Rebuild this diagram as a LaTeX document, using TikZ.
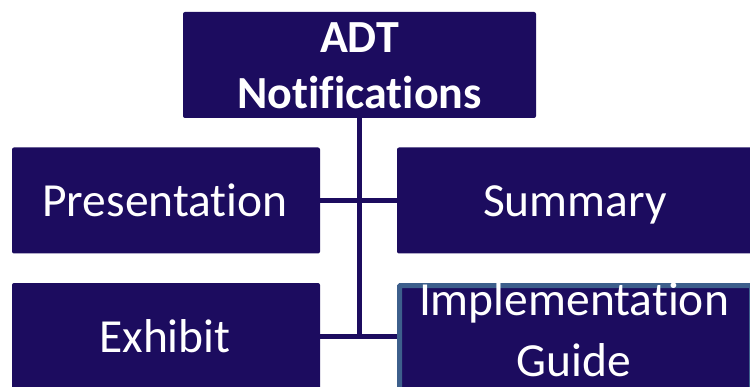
\documentclass[tikz,border=0pt]{standalone}
\usepackage{fontspec}
\setmainfont{Carlito}[Ligatures=NoCommon]
\definecolor{navy}{HTML}{1C0C5F}
\definecolor{rim}{HTML}{3D5F8C}
\begin{document}
\begin{tikzpicture}[x=1pt,y=1pt,
  box/.style={fill=navy, rounded corners=2pt, inner sep=0pt},
  label/.style={text=white, anchor=base, inner sep=0pt},
  big/.style={label, font=\fontsize{47.5}{55}\selectfont},
  head/.style={label, font=\bfseries\fontsize{46}{55}\selectfont},
  link/.style={draw=navy, line width=5pt}]
\useasboundingbox (0,0) rectangle (750,386);

% boxes
\node[box, minimum width=353, minimum height=106] (adt) at (359.5,321) {};
\node[box, minimum width=308, minimum height=106] (pres) at (166,185.5) {};
\node[box, minimum width=356, minimum height=106] (summ) at (575,185.5) {};
\node[box, minimum width=308, minimum height=107] (exh) at (166,49.5) {};
\node[box, draw=rim, line width=5pt, rounded corners=1pt,
      minimum width=352, minimum height=104.5] (impl) at (575.5,48.25) {};

% texts
\node[head] (t1) at (359.5,333) {ADT};
\node[head] (t2) at (359.5,277) {Notifications};
\node[big] (t3) at (165,169) {Presentation};
\node[big] (t4) at (575,169) {Summary};
\node[big] (t5) at (165,34) {Exhibit};
\node[big] (t6) at (574,71) {Implementation};
\node[big] (t7) at (574,10) {Guide};

% connectors
\coordinate (hub) at (adt.south |- exh.east);
\draw[link] (adt.south) -- ([yshift=-2.5pt]hub);
\draw[link] (pres.east) -- (summ.west);
\draw[link] (exh.east) -- (exh.east -| impl.west);
\end{tikzpicture}
\end{document}
